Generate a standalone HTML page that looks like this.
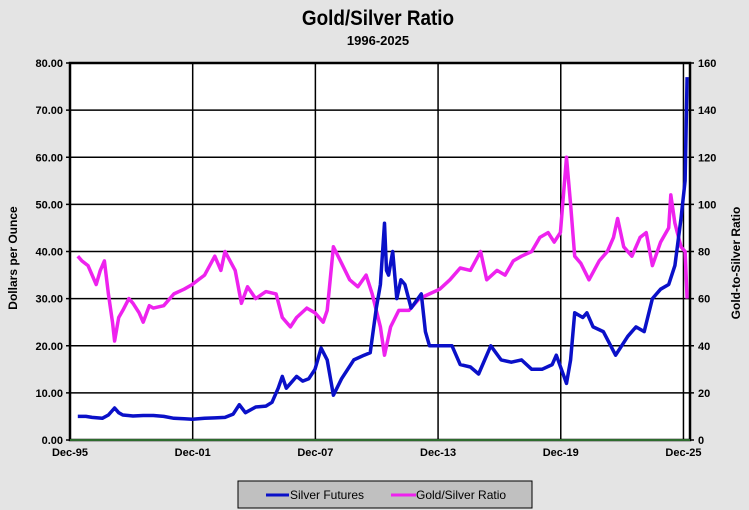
<!DOCTYPE html>
<html><head><meta charset="utf-8"><style>
html,body{margin:0;padding:0;background:#e4e4e4;}
svg{display:block;font-family:"Liberation Sans",Arial,sans-serif;}
</style></head><body>
<svg id="chart" width="749" height="510" viewBox="0 0 749 510">
<rect x="0" y="0" width="749" height="510" fill="#e4e4e4"/>
<text x="378" y="25" text-anchor="middle" font-size="21" font-weight="bold" transform="translate(378,0) scale(0.9,1) translate(-378,0)">Gold/Silver Ratio</text>
<text x="378" y="45" text-anchor="middle" font-size="13" font-weight="bold">1996-2025</text>
<rect x="70" y="63" width="620" height="377" fill="#fff"/>
<g id="grid"></g>
<g id="series"></g>
<rect x="70" y="63" width="620" height="377" fill="none" stroke="#000" stroke-width="2.5"/>
<line x1="70" y1="440" x2="690" y2="440" stroke="#2e6b2e" stroke-width="2"/>
<g id="axes"></g>
<text transform="translate(17,258) rotate(-90)" text-anchor="middle" font-size="12" font-weight="bold">Dollars per Ounce</text>
<text transform="translate(740,263) rotate(-90)" text-anchor="middle" font-size="12" font-weight="bold">Gold-to-Silver Ratio</text>
<g>
<rect x="238" y="481" width="294" height="27" fill="#c0c0c0" stroke="#000" stroke-width="1"/>
<line x1="266" y1="495" x2="289" y2="495" stroke="#0a10c8" stroke-width="3"/>
<text x="290" y="499" font-size="12">Silver Futures</text>
<line x1="391" y1="495" x2="416" y2="495" stroke="#ee22ee" stroke-width="3"/>
<text x="416" y="499" font-size="12">Gold/Silver Ratio</text>
</g>
</svg>
<script>
const leftTicks=[0,10,20,30,40,50,60,70,80];
const leftTickLabels=["0.00","10.00","20.00","30.00","40.00","50.00","60.00","70.00","80.00"];
const rightTicks=[0,20,40,60,80,100,120,140,160];
const xTicks=[1995.92,2001.92,2007.92,2013.92,2019.92,2025.92];
const xTickLabels=["Dec-95","Dec-01","Dec-07","Dec-13","Dec-19","Dec-25"];
const silverYears=[1996.3,1996.7,1997,1997.5,1997.8,1998.1,1998.3,1998.5,1999,1999.5,2000,2000.5,2001,2001.5,2001.9,2002.5,2003,2003.5,2003.9,2004.2,2004.5,2005,2005.5,2005.8,2006.1,2006.3,2006.5,2007,2007.3,2007.6,2007.9,2008.2,2008.5,2008.8,2009.2,2009.5,2009.8,2010.3,2010.6,2010.9,2011.1,2011.3,2011.4,2011.5,2011.7,2011.9,2012.1,2012.3,2012.6,2013.1,2013.3,2013.5,2014,2014.6,2015,2015.5,2015.9,2016.5,2017,2017.5,2018,2018.5,2019,2019.5,2019.7,2020.2,2020.4,2020.6,2021,2021.2,2021.5,2022,2022.6,2023.2,2023.6,2024,2024.4,2024.8,2025.2,2025.5,2025.8,2026.0,2026.1];
const silverValues=[5.0,5.0,4.8,4.6,5.3,6.8,5.8,5.3,5.1,5.2,5.2,5.0,4.6,4.5,4.4,4.6,4.7,4.8,5.5,7.5,5.8,7.0,7.2,8.0,11,13.5,11,13.5,12.5,13,15,19.5,17,9.5,13,15,17,18,18.5,28,33,46,36,35,40,30,34,33,28,31,23,20,20,20,16,15.5,14,20,17,16.5,17,15,15,16,18,12,17,27,26,27,24,23,18,22,24,23,30,32,33,37,47,55,77];
const ratioYears=[1996.3,1996.5,1996.8,1997.2,1997.4,1997.6,1997.8,1998,1998.1,1998.3,1998.5,1998.8,1999,1999.3,1999.5,1999.8,2000,2000.5,2001,2001.5,2001.9,2002.2,2002.5,2003,2003.3,2003.5,2004,2004.3,2004.6,2005,2005.5,2006,2006.3,2006.7,2007,2007.5,2007.9,2008.3,2008.5,2008.8,2009.2,2009.6,2010,2010.4,2010.7,2011.1,2011.3,2011.6,2012,2012.5,2013,2013.5,2014,2014.5,2015,2015.5,2016,2016.3,2016.8,2017.2,2017.6,2018,2018.5,2018.9,2019.3,2019.6,2019.9,2020.2,2020.4,2020.6,2020.9,2021.3,2021.8,2022.2,2022.5,2022.7,2023,2023.4,2023.8,2024.1,2024.4,2024.8,2025.2,2025.3,2025.5,2025.8,2026.0,2026.1];
const ratioValues=[78,76,74,66,72,76,62,50,42,52,55,60,58,54,50,57,56,57,62,64,66,68,70,78,72,80,72,58,65,60,63,62,52,48,52,56,54,50,55,82,75,68,65,70,62,48,36,48,55,55,60,62,64,68,73,72,80,68,72,70,76,78,80,86,88,84,88,120,100,78,75,68,76,80,86,94,82,78,86,88,74,84,90,104,92,82,80,60];

const NS="http://www.w3.org/2000/svg";
const X0=70,X1=690,Y0=440,Y1=63;
const xMin=1995.92,xMax=2026.24;
function xs(v){return X0+(v-xMin)/(xMax-xMin)*(X1-X0);}
function yl(v){return Y0-(v/80)*(Y0-Y1);}
function yr(v){return Y0-(v/160)*(Y0-Y1);}
function mk(tag,attrs,parent){const e=document.createElementNS(NS,tag);for(const k in attrs)e.setAttribute(k,attrs[k]);parent.appendChild(e);return e;}
const grid=document.getElementById('grid'),axes=document.getElementById('axes'),series=document.getElementById('series');
leftTicks.forEach((t,i)=>{
  const y=yl(t);
  if(t>0&&t<80){const g=mk('line',{x1:X0,x2:X1,y1:y,y2:y,stroke:'#000','stroke-width':1.5},grid);
  
  }
  const tk=mk('line',{x1:X0-4,x2:X0,y1:y,y2:y,stroke:'#000','stroke-width':1.5},axes);
  
  
  const tx=mk('text',{x:X0-7,y:y+4,'text-anchor':'end','font-size':11,'font-weight':'bold'},axes);
  tx.textContent=leftTickLabels[i];
  
  
});
rightTicks.forEach(t=>{
  const y=yr(t);
  const tk=mk('line',{x1:X1,x2:X1+4,y1:y,y2:y,stroke:'#000','stroke-width':1.5},axes);
  
  
  const tx=mk('text',{x:X1+8,y:y+4,'text-anchor':'start','font-size':11,'font-weight':'bold'},axes);
  tx.textContent=String(t);
  
  
});
xTicks.forEach((t,i)=>{
  const x=xs(t);
  if(i>0){const g=mk('line',{x1:x,x2:x,y1:Y1,y2:Y0,stroke:'#000','stroke-width':1.5},grid);
  
  }
  const tx=mk('text',{x:x,y:Y0+16,'text-anchor':'middle','font-size':11,'font-weight':'bold'},axes);
  tx.textContent=xTickLabels[i];
  
  
});
function path(xsArr,vals,yf){return xsArr.map((x,i)=>(i?'L':'M')+xs(x).toFixed(1)+','+yf(vals[i]).toFixed(1)).join(' ');}
const pr=mk('path',{d:path(ratioYears,ratioValues,yr),fill:'none',stroke:'#ee22ee','stroke-width':3.5,'stroke-linejoin':'round'},series);


const ps=mk('path',{d:path(silverYears,silverValues,yl),fill:'none',stroke:'#0a10c8','stroke-width':3.5,'stroke-linejoin':'round'},series);


</script>
</body></html>
